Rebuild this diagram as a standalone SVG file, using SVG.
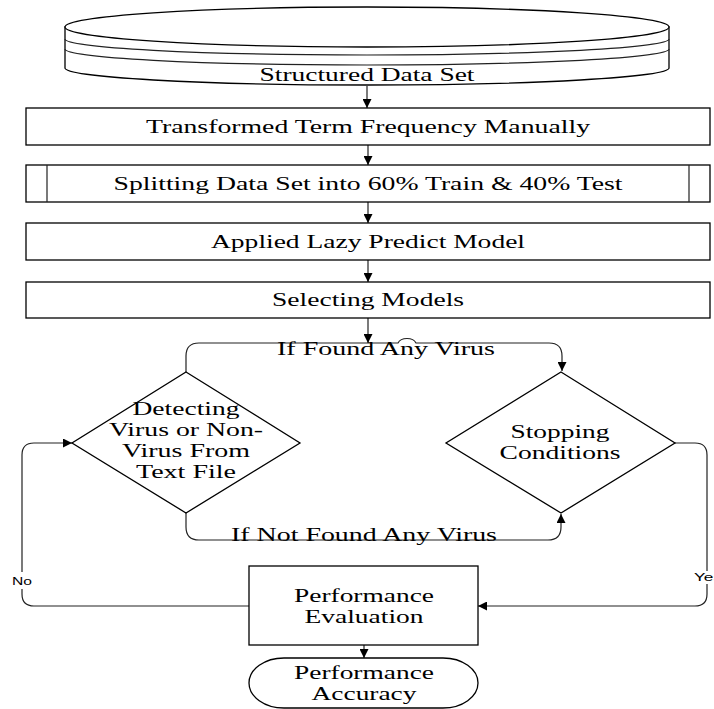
<svg xmlns="http://www.w3.org/2000/svg" width="714" height="709" viewBox="0 0 714 709">
<style>
.t{font-family:"Liberation Serif","Times New Roman",serif;font-size:18px;fill:#000;text-anchor:middle}
.s{font-family:"Liberation Sans",Arial,sans-serif;font-size:10px;fill:#000;text-anchor:middle}
.box{fill:#fff;stroke:#000;stroke-width:1.3}
.con{fill:none;stroke:#222;stroke-width:1.2}
.arr{marker-end:url(#ah)}
</style>
<defs>
<marker id="ah" markerUnits="userSpaceOnUse" markerWidth="10" markerHeight="9" refX="9" refY="4.5" orient="auto">
<path d="M0,0 L9,4.5 L0,9 z" fill="#000"/>
</marker>
</defs>
<rect width="714" height="709" fill="#fff"/>

<g id="connectors">
<path class="con arr" d="M367,86 V108"/>
<path class="con arr" d="M368,145 V165"/>
<path class="con arr" d="M368,202 V223"/>
<path class="con arr" d="M368,260 V282"/>
<path class="con arr" d="M368,318 V343"/>
<path class="con arr" d="M186,372 V356 Q186,343 199,343 H398 C401,337 413,337 416,343 H549 Q562,343 562,356 V371"/>
<path class="con arr" d="M186,513 V527 Q186,540 199,540 H548 Q561,540 561,527 V514"/>
<path class="con" d="M249,606 H34 Q22,606 22,594 V589"/>
<path class="con arr" d="M22,572 V455 Q22,443 34,443 H72"/>
<path class="con" d="M675,443 H695 Q707,443 707,455 V571"/>
<path class="con arr" d="M707,584 V594 Q707,606 695,606 H478"/>
<path class="con arr" d="M364,645 V658"/>
</g>

<g id="structured-data-set">
<path class="box" d="M65,27 V68 A302,17 0 0 0 669,68 V27 Z"/>
<ellipse class="box" cx="367" cy="27" rx="302" ry="20"/>
<path class="con" d="M65,39 A302,16 0 0 0 669,39 M65,49 A302,16 0 0 0 669,49" stroke="#000"/>
<text class="t" x="367" y="81" textLength="215" lengthAdjust="spacingAndGlyphs">Structured Data Set</text>
</g>

<g id="transformed">
<rect class="box" x="26" y="108" width="684" height="37"/>
<text class="t" x="368" y="133" textLength="444" lengthAdjust="spacingAndGlyphs">Transformed Term Frequency Manually</text>
</g>

<g id="splitting">
<rect class="box" x="26" y="165" width="684" height="37"/>
<path class="con" d="M47,165 V202 M689,165 V202" stroke="#000"/>
<text class="t" x="368" y="190" textLength="509" lengthAdjust="spacingAndGlyphs">Splitting Data Set into 60% Train &amp; 40% Test</text>
</g>

<g id="applied">
<rect class="box" x="26" y="223" width="684" height="37"/>
<text class="t" x="368" y="248" textLength="314" lengthAdjust="spacingAndGlyphs">Applied Lazy Predict Model</text>
</g>

<g id="selecting">
<rect class="box" x="26" y="282" width="684" height="36"/>
<text class="t" x="368" y="306" textLength="192" lengthAdjust="spacingAndGlyphs">Selecting Models</text>
</g>

<g id="detecting">
<polygon class="box" points="186,372 300,443 186,513 72,443"/>
<text class="t" x="186" y="415" textLength="107" lengthAdjust="spacingAndGlyphs">Detecting</text>
<text class="t" x="186" y="436" textLength="154" lengthAdjust="spacingAndGlyphs">Virus or Non-</text>
<text class="t" x="186" y="457" textLength="128" lengthAdjust="spacingAndGlyphs">Virus From</text>
<text class="t" x="186" y="478" textLength="100" lengthAdjust="spacingAndGlyphs">Text File</text>
</g>

<g id="stopping">
<polygon class="box" points="561,372 675,443 561,513 446,443"/>
<text class="t" x="560" y="438" textLength="99" lengthAdjust="spacingAndGlyphs">Stopping</text>
<text class="t" x="560" y="459" textLength="121" lengthAdjust="spacingAndGlyphs">Conditions</text>
</g>

<g id="labels">
<text class="t" x="386" y="355" textLength="218" lengthAdjust="spacingAndGlyphs">If Found Any Virus</text>
<text class="t" x="364" y="541" textLength="266" lengthAdjust="spacingAndGlyphs">If Not Found Any Virus</text>
<text class="s" x="22" y="585" textLength="20" lengthAdjust="spacingAndGlyphs">No</text>
<text class="s" x="708" y="581" textLength="28" lengthAdjust="spacingAndGlyphs">Yes</text>
</g>

<g id="evaluation">
<rect class="box" x="249" y="566" width="229" height="79"/>
<text class="t" x="364" y="602" textLength="140" lengthAdjust="spacingAndGlyphs">Performance</text>
<text class="t" x="364" y="623" textLength="119" lengthAdjust="spacingAndGlyphs">Evaluation</text>
</g>

<g id="accuracy">
<rect class="box" x="249" y="658" width="229" height="50" rx="35" ry="25"/>
<text class="t" x="364" y="679" textLength="140" lengthAdjust="spacingAndGlyphs">Performance</text>
<text class="t" x="364" y="700" textLength="105" lengthAdjust="spacingAndGlyphs">Accuracy</text>
</g>
</svg>
